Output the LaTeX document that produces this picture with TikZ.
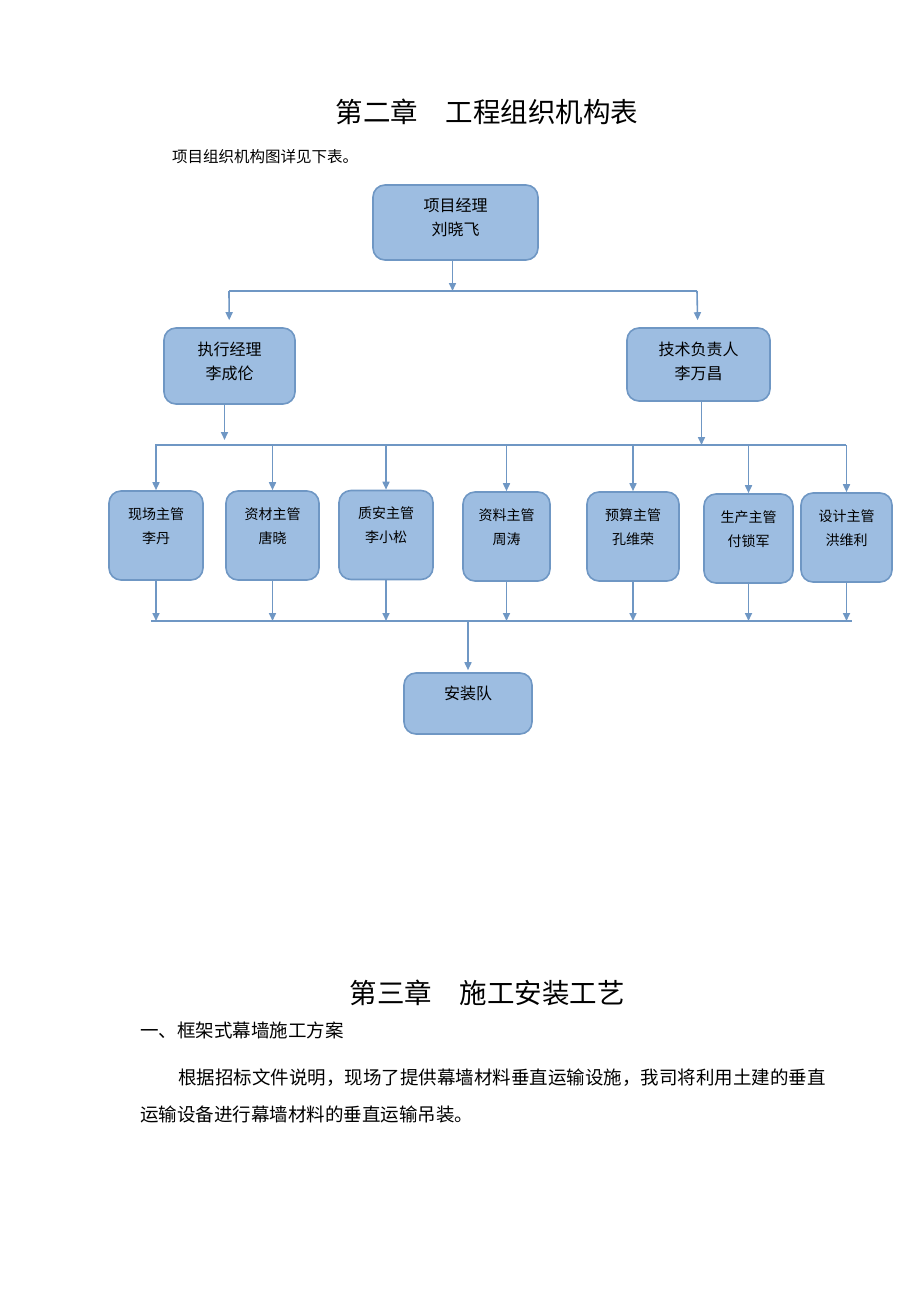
\documentclass[tikz,border=0pt]{standalone}
\usepackage{fontspec}
\setmainfont{Noto Sans CJK SC}
\usetikzlibrary{arrows.meta}
\definecolor{boxfill}{HTML}{9DBDE1}
\definecolor{boxline}{HTML}{6F97C4}

\begin{document}
\begin{tikzpicture}[x=1pt,y=-1pt,>={Triangle[length=8pt,width=7pt]},
   box/.style={draw=boxline,fill=boxfill,line width=1.6pt,rounded corners=12pt,
               align=center,inner sep=0pt},
   head/.style={box,font=\fontsize{16}{24}\selectfont},
   lead/.style={box,font=\fontsize{14}{24}\selectfont,text depth=20pt,
                minimum height=89pt},
   link/.style={draw=boxline,line width=1.6pt},
   txt/.style={inner sep=0pt,anchor=west}]
   \useasboundingbox (0,0) rectangle (920,1302);

   % headings
   \node[inner sep=0pt,font=\fontsize{27.5}{30}\selectfont] (title1) at (487,112) {第二章　工程组织机构表};
   \node[txt,font=\fontsize{15.5}{20}\selectfont] (intro) at (172,157) {项目组织机构图详见下表。};

   % boxes
   \node[head,text depth=11pt,minimum width=165pt,minimum height=75pt] (pm) at (455.5,222.5) {项目经理\\刘晓飞};
   \node[head,text depth=10pt,minimum width=131pt,minimum height=76pt] (em) at (229.5,366) {执行经理\\李成伦};
   \node[head,text depth=8pt,minimum width=143pt,minimum height=73pt] (tm) at (698.5,364.5) {技术负责人\\李万昌};

   \node[lead,minimum width=94pt] (s1) at (156,535.5)   {现场主管\\李丹};
   \node[lead,minimum width=93pt] (s2) at (272.5,535.5) {资材主管\\唐晓};
   \node[lead,minimum width=94pt] (s3) at (386,535)     {质安主管\\李小松};
   \node[lead,minimum width=87pt] (s4) at (506.5,536.5) {资料主管\\周涛};
   \node[lead,minimum width=92pt] (s5) at (633,536.5)   {预算主管\\孔维荣};
   \node[lead,minimum width=89pt] (s6) at (748.5,538.5) {生产主管\\付锁军};
   \node[lead,minimum width=91pt] (s7) at (846.5,537.5) {设计主管\\洪维利};

   \node[head,text depth=21pt,minimum width=128pt,minimum height=61pt] (team) at (468,703.5) {安装队};

   % connectors
   \coordinate (b1l) at (229,291);
   \coordinate (b1r) at (697,291);
   \coordinate (b2l) at (155,445);
   \coordinate (b2r) at (846,445);
   \coordinate (b3l) at (151,621);
   \coordinate (b3r) at (852,621);

   \draw[link] (b1l) -- (b1r);
   \draw[link,->] ([xshift=-3pt]pm.south) -- ([xshift=-3pt]pm.south |- b1l);
   \draw[link,->,shorten >=7pt] (b1l) -- (em);
   \draw[link,->,shorten >=7pt] (b1r) -- (tm);

   \draw[link] (b2l) -- (b2r);
   \draw[link,->,shorten >=5pt] ([xshift=-5pt]em.south) -- ([xshift=-5pt]em.south |- b2l);
   \draw[link,->] ([xshift=3pt]tm.south) -- ([xshift=3pt]tm.south |- b2l);
   \foreach \n in {s1,s2,s3,s4,s5,s6,s7}
      \draw[link,->] (\n.north |- b2l) -- (\n.north);

   \draw[link] (b3l) -- (b3r);
   \foreach \n in {s1,s2,s3,s4,s5,s6,s7}
      \draw[link,->] (\n.south) -- (\n.south |- b3l);
   \draw[link,->,shorten >=2pt] (team.north |- b3l) -- (team);

   % next chapter
   \node[inner sep=0pt,font=\fontsize{27.5}{30}\selectfont] (title2) at (487,993) {第三章　施工安装工艺};
   \node[txt,font=\fontsize{18.5}{24}\selectfont] (sec) at (140,1030) {一、框架式幕墙施工方案};
   \node[txt,font=\fontsize{18.5}{24}\selectfont] (para1) at (178,1078) {根据招标文件说明，现场了提供幕墙材料垂直运输设施，我司将利用土建的垂直};
   \node[txt,font=\fontsize{18.5}{24}\selectfont] (para2) at (140,1114) {运输设备进行幕墙材料的垂直运输吊装。};
\end{tikzpicture}
\end{document}
